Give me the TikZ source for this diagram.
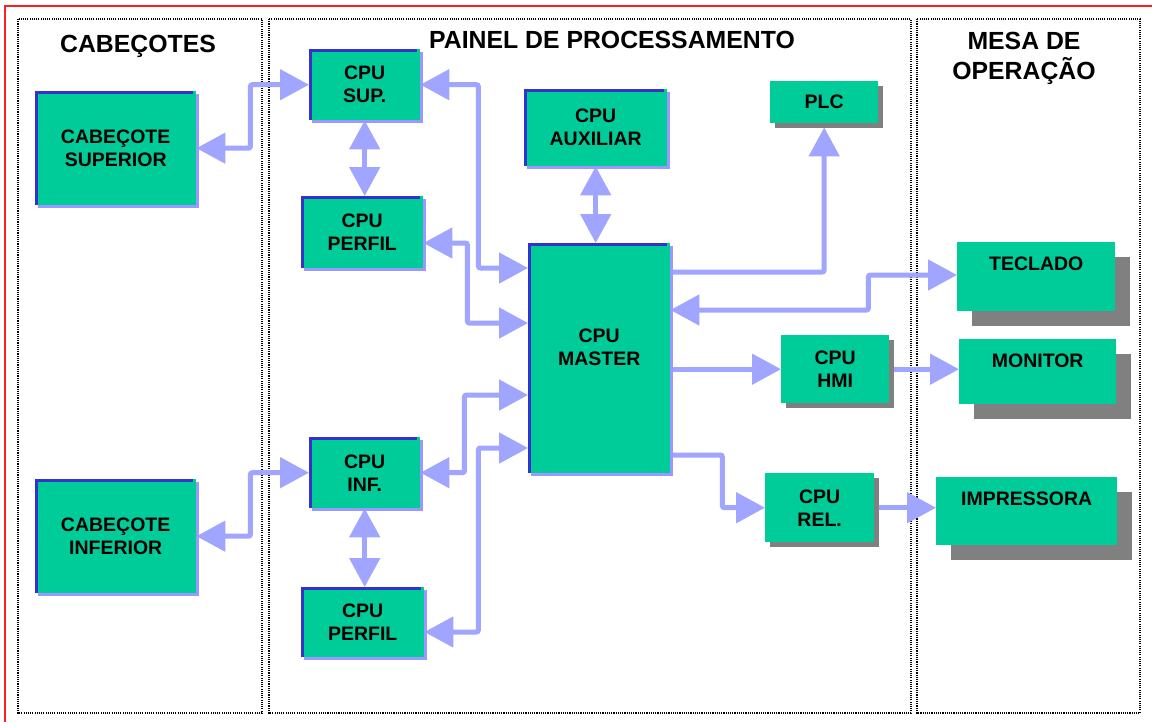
\documentclass[tikz,border=0pt]{standalone}
\usepackage{fontspec}
\setmainfont{Liberation Sans}
\usetikzlibrary{arrows.meta,calc,shadows}
\definecolor{boxgreen}{RGB}{0,204,153}
\definecolor{edgeblue}{RGB}{51,51,204}
\definecolor{shblue}{RGB}{153,153,255}
\definecolor{shgray}{RGB}{128,128,128}
\definecolor{arrblue}{RGB}{160,165,255}
\definecolor{framered}{RGB}{255,30,30}
\pgfdeclarelayer{back}
\pgfdeclarelayer{bg}
\pgfsetlayers{back,bg,main}
\tikzset{
  box/.style={rectangle, fill=boxgreen, inner sep=0pt, anchor=north west, align=center,
    font=\fontsize{19.5}{23}\selectfont\bfseries},
  bluebox/.style={box, drop shadow={shadow xshift=3pt, shadow yshift=-3pt, fill=shblue, opacity=1},
    path picture={\draw[edgeblue, line width=5pt]
      (path picture bounding box.south west) -- (path picture bounding box.north west)
      -- ([xshift=-3pt]path picture bounding box.north east);}},
  graybox/.style={box, drop shadow={shadow xshift=#1, shadow yshift=-#1, fill=shgray, opacity=1}},
  btxt/.style={font=\fontsize{19.5}{23}\selectfont\bfseries, inner sep=0pt, align=center},
  ttl/.style={font=\fontsize{24.8}{30}\selectfont\bfseries, inner sep=0pt, anchor=base},
  panel/.style={draw=black, line width=1.05pt, dash pattern=on 1.1pt off 1.1pt},
  arr/.style={draw=arrblue, line width=5pt, rounded corners=2pt},
  dbl/.style={arr, {Triangle[length=29pt,width=30pt]}-{Triangle[length=29pt,width=30pt]}},
  sgl/.style={arr, -{Triangle[length=29pt,width=30pt]}},
}
\begin{document}
\begin{tikzpicture}[x=1pt,y=-1pt]
\useasboundingbox (0,0) rectangle (1152,721);
\begin{pgfonlayer}{back}
\fill[white] (0,0) rectangle (1152,721);
% red frame
\draw[framered, line width=2pt] (4.5,730) -- (4.5,5.5) -- (1160,5.5);
% panels
\draw[panel] (18,19) rectangle (262,713);
\draw[panel] (269,19) rectangle (911,713);
\draw[panel] (917,19) rectangle (1140,713);
\end{pgfonlayer}
% titles
\node[ttl] (t1) at (138,52) {CABEÇOTES};
\node[ttl] (t2) at (612,48) {PAINEL DE PROCESSAMENTO};
\node[ttl] (t3) at (1024,49) {MESA DE};
\node[ttl] (t4) at (1024,79) {OPERAÇÃO};
% boxes
\node[bluebox, minimum width=161pt, minimum height=114pt] (csup) at (35,91) {CABEÇOTE\\SUPERIOR};
\node[bluebox, minimum width=161pt, minimum height=114pt] (cinf) at (35,479) {CABEÇOTE\\INFERIOR};
\node[bluebox, minimum width=111pt, minimum height=71pt] (sup) at (309,49) {CPU\\SUP.};
\node[bluebox, minimum width=122pt, minimum height=72pt] (perf1) at (301,196) {CPU\\PERFIL};
\node[bluebox, minimum width=143pt, minimum height=77pt] (aux) at (524,89) {CPU\\AUXILIAR};
\node[bluebox, minimum width=142pt, minimum height=230pt] (master) at (528,243) {};
\node[btxt] (mastert) at ($(master.center)+(0,-10.5)$) {CPU\\MASTER};
\node[bluebox, minimum width=111pt, minimum height=71pt] (inf) at (309,437) {CPU\\INF.};
\node[bluebox, minimum width=123pt, minimum height=70pt] (perf2) at (301,587) {CPU\\PERFIL};
\node[graybox=5pt, minimum width=108pt, minimum height=42pt] (plc) at (770,81) {PLC};
\node[graybox=5pt, minimum width=108pt, minimum height=68pt] (hmi) at (781,335) {CPU\\HMI};
\node[graybox=5pt, minimum width=109pt, minimum height=69pt] (rel) at (765,473) {CPU\\REL.};
\node[graybox=15pt, minimum width=158pt, minimum height=69pt] (tec) at (957,242) {};
\node[graybox=15pt, minimum width=157pt, minimum height=65pt] (mon) at (959,339) {};
\node[graybox=15pt, minimum width=181pt, minimum height=68pt] (imp) at (936,477) {};
\node[btxt, anchor=base] (tect) at ($(tec.north)+(0,28)$) {TECLADO};
\node[btxt, anchor=base] (mont) at ($(mon.north)+(0,28)$) {MONITOR};
\node[btxt, anchor=base] (impt) at ($(imp.north)+(0,28)$) {IMPRESSORA};
% connectors
\begin{pgfonlayer}{bg}
\draw[dbl] (csup.east) -- ++(54,0) |- (sup.west);
\draw[dbl] (sup.south) -- (sup.south |- perf1.north);
\draw[dbl] (sup.east) -- ++(58,0) |- ($(master.north west)+(0,25)$);
\draw[dbl] ($(perf1.north east)+(0,47)$) -- ++(44,0) |- ($(master.north west)+(0,80)$);
\draw[dbl] (inf.east) -- ++(44,0) |- ($(master.north west)+(0,152)$);
\draw[dbl] ($(perf2.north east)+(0,45)$) -- ++(54,0) |- ($(master.north west)+(0,205)$);
\draw[dbl] (cinf.east) -- ++(54,0) |- (inf.west);
\draw[dbl] (inf.south) -- (inf.south |- perf2.north);
\draw[dbl] (aux.south) -- (aux.south |- master.north);
\draw[sgl] ($(master.north east)+(0,29)$) -| ($(plc.south)+(0,4)$);
\draw[dbl] ($(master.north east)+(0,67)$) -- ++(198,0) |- ($(tec.north west)+(0,33)$);
\draw[sgl] (master.east |- hmi.west) -- (hmi.west);
\draw[sgl] (hmi.east) -- (hmi.east -| mon.west);
\draw[sgl] ($(master.north east)+(0,212)$) -- ++(52,0) |- (rel.west);
\draw[sgl] (rel.east) -- (rel.east -| imp.west);
\end{pgfonlayer}
\end{tikzpicture}
\end{document}
